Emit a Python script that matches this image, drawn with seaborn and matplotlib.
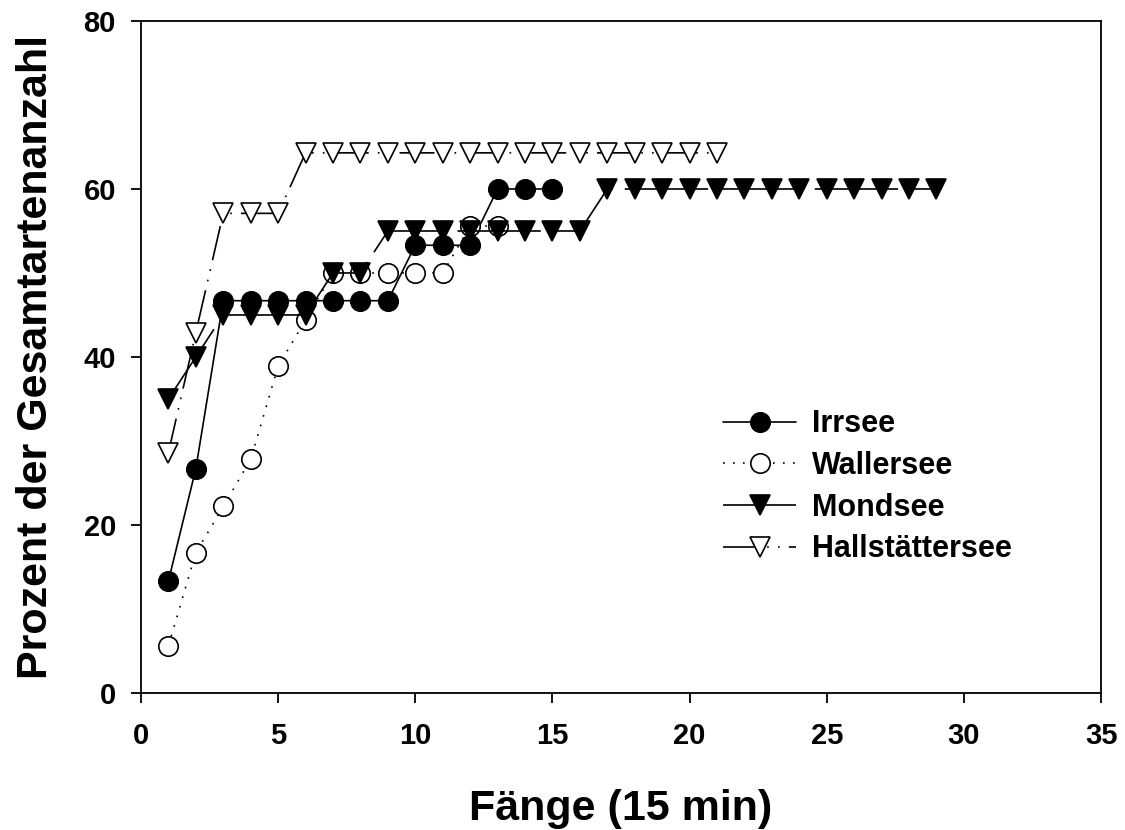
import matplotlib
matplotlib.use("Agg")
import matplotlib.pyplot as plt
import seaborn as sns
import pandas as pd

# Cumulative share of total species count per catch (15 min hauls)
irrsee_x = [1, 2, 3, 4, 5, 6, 7, 8, 9, 10, 11, 12, 13, 14, 15]
irrsee_y = [13.3, 26.7, 46.7, 46.7, 46.7, 46.7, 46.7, 46.7, 46.7, 53.3, 53.3, 53.3, 60.0, 60.0, 60.0]

wallersee_x = [1, 2, 3, 4, 5, 6, 7, 8, 9, 10, 11, 12, 13]
wallersee_y = [5.6, 16.7, 22.2, 27.8, 38.9, 44.4, 50.0, 50.0, 50.0, 50.0, 50.0, 55.6, 55.6]

mondsee_x = list(range(1, 30))
mondsee_y = [35.0, 40.0, 45.0, 45.0, 45.0, 45.0, 50.0, 50.0,
             55.0, 55.0, 55.0, 55.0, 55.0, 55.0, 55.0, 55.0,
             60.0, 60.0, 60.0, 60.0, 60.0, 60.0, 60.0, 60.0, 60.0, 60.0, 60.0, 60.0, 60.0]

hallstatt_x = list(range(1, 22))
hallstatt_y = [28.6, 42.9, 57.1, 57.1, 57.1] + [64.3] * 16

lake_names = ["Irrsee", "Wallersee", "Mondsee", "Hallstättersee"]
x_ticks = [0, 5, 10, 15, 20, 25, 30, 35]
y_ticks = [0, 20, 40, 60, 80]

sns.set_style("ticks")
plt.rcParams["font.family"] = ["Liberation Sans", "DejaVu Sans"]
plt.rcParams["font.weight"] = "bold"
plt.rcParams["text.color"] = "black"
plt.rcParams["axes.labelcolor"] = "black"
plt.rcParams["xtick.color"] = "black"
plt.rcParams["ytick.color"] = "black"

fig = plt.figure(figsize=(11.25, 8.3), dpi=100)
ax = fig.add_axes([0.1253, 0.1651, 0.8534, 0.8096])

lw = 1.2
styles = {
    "Irrsee": dict(linestyle="-", marker="o", markerfacecolor="black"),
    "Wallersee": dict(linestyle=(0, (1, 5)), marker="o", markerfacecolor="white"),
    "Mondsee": dict(linestyle=(0, (50, 7)), marker="v", markerfacecolor="black"),
    "Hallstättersee": dict(linestyle=(0, (21, 5.5, 1, 5.5, 1, 5.5)), marker="v",
                           markerfacecolor="white"),
}
series = {
    "Irrsee": (irrsee_x, irrsee_y),
    "Wallersee": (wallersee_x, wallersee_y),
    "Mondsee": (mondsee_x, mondsee_y),
    "Hallstättersee": (hallstatt_x, hallstatt_y),
}

for name in lake_names:
    xs, ys = series[name]
    df = pd.DataFrame({"Fang": xs, "Prozent": ys})
    sns.lineplot(data=df, x="Fang", y="Prozent", ax=ax, color="black",
                 linewidth=lw, markersize=14, markeredgecolor="black",
                 markeredgewidth=1.2, errorbar=None, label=name,
                 **styles[name])

ax.set_xlim(0, 35)
ax.set_ylim(0, 80)
ax.set_xticks(x_ticks)
ax.set_yticks(y_ticks)
ax.tick_params(axis="both", which="major", direction="out", length=7,
               width=1.3, labelsize=21, color="black", labelcolor="black")
ax.tick_params(axis="x", pad=14)
ax.tick_params(axis="y", pad=11)
for lab in ax.get_xticklabels() + ax.get_yticklabels():
    lab.set_fontweight("bold")
for side in ["left", "bottom", "right", "top"]:
    ax.spines[side].set_visible(True)
    ax.spines[side].set_linewidth(1.3)
    ax.spines[side].set_color("black")

ax.set_xlabel("Fänge (15 min)", fontsize=31, fontweight="bold", labelpad=28,
              color="black")
ax.set_ylabel("Prozent der Gesamtartenanzahl", fontsize=31, fontweight="bold",
              labelpad=20, color="black")

handles, labels = ax.get_legend_handles_labels()
ax.legend(handles, labels, loc="center left", bbox_to_anchor=(0.6427, 0.4135),
          bbox_transform=fig.transFigure, frameon=False,
          prop={"weight": "bold", "size": 22}, handlelength=2.4,
          handletextpad=0.5, labelspacing=0.38, borderpad=0,
          borderaxespad=0, numpoints=1, labelcolor="black")

fig.savefig("out.png", dpi=100, facecolor="white")
